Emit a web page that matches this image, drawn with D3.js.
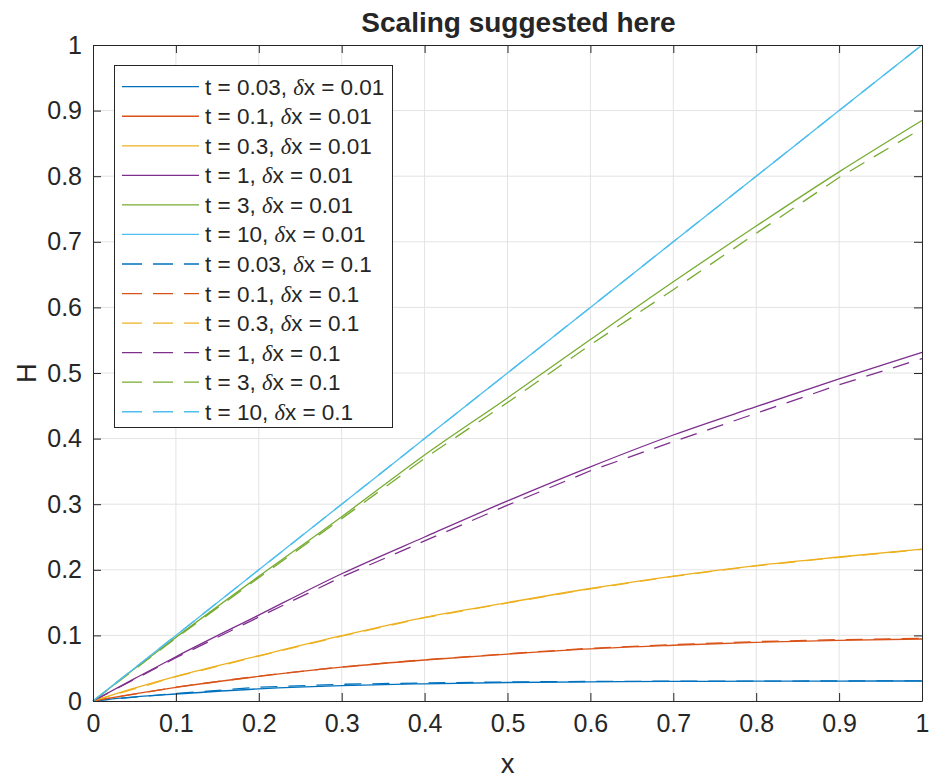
<!DOCTYPE html>
<html>
<head>
<meta charset="utf-8">
<script src="https://cdn.jsdelivr.net/npm/d3@7"></script>
<style>
  body { margin: 0; background: #fff; }
  svg { display: block; }
  text { font-family: "Liberation Sans", Arial, Helvetica, sans-serif; fill: #262626; }
</style>
</head>
<body>
<svg id="chart" width="930" height="779"></svg>
<script>
// Sample positions: the fine runs (dx = 0.01) are read off the picture at these x,
// the coarse runs (dx = 0.1) only have points every 0.1
const xFine = [0, 0.05, 0.1, 0.2, 0.3, 0.4, 0.5, 0.6, 0.7, 0.8, 0.9, 1.0];
const xCoarse = [0, 0.1, 0.2, 0.3, 0.4, 0.5, 0.6, 0.7, 0.8, 0.9, 1.0];

// H values, dx = 0.01 (solid lines)
const fineT003 = [0, 0.0062, 0.0107, 0.0185, 0.0235, 0.0262, 0.0282, 0.0293, 0.0299, 0.0302, 0.0304, 0.0305];
const fineT01  = [0, 0.011, 0.0208, 0.0375, 0.0515, 0.0625, 0.0715, 0.0795, 0.085, 0.0895, 0.0925, 0.0945];
const fineT03  = [0, 0.0195, 0.0375, 0.069, 0.0995, 0.1275, 0.150, 0.1715, 0.1905, 0.2065, 0.2195, 0.2315];
const fineT1   = [0, 0.034, 0.0675, 0.131, 0.194, 0.250, 0.305, 0.357, 0.4055, 0.4487, 0.491, 0.5315];
const fineT3   = [0, 0.049, 0.097, 0.19, 0.281, 0.375, 0.462, 0.551, 0.639, 0.724, 0.8066, 0.885];
const fineT10  = [0, 0.05, 0.1, 0.2, 0.3, 0.4, 0.5, 0.6, 0.7, 0.8, 0.9, 1.0];

// H values, dx = 0.1 (dashed lines)
const coarseT003 = [0, 0.0115, 0.021, 0.0255, 0.0275, 0.029, 0.0298, 0.0302, 0.0304, 0.0305, 0.0306];
const coarseT01  = [0, 0.021, 0.038, 0.052, 0.063, 0.072, 0.0805, 0.086, 0.0905, 0.0935, 0.0955];
const coarseT03  = [0, 0.037, 0.0685, 0.099, 0.127, 0.1495, 0.171, 0.190, 0.206, 0.219, 0.231];
const coarseT1   = [0, 0.066, 0.128, 0.189, 0.244, 0.2985, 0.351, 0.3954, 0.4386, 0.482, 0.522];
const coarseT3   = [0, 0.096, 0.188, 0.278, 0.370, 0.455, 0.543, 0.627, 0.713, 0.798, 0.873];
const coarseT10  = [0, 0.1, 0.2, 0.3, 0.4, 0.5, 0.6, 0.7, 0.8, 0.9, 1.0];

const tLabels = ['0.03', '0.1', '0.3', '1', '3', '10'];
const dxLabels = ['0.01', '0.1'];
const xTicks = [0, 0.1, 0.2, 0.3, 0.4, 0.5, 0.6, 0.7, 0.8, 0.9, 1];
const yTicks = [0, 0.1, 0.2, 0.3, 0.4, 0.5, 0.6, 0.7, 0.8, 0.9, 1];

// MATLAB default colour order
const colors = ['#0072BD', '#D95319', '#EDB120', '#7E2F8E', '#77AC30', '#4DBEEE'];

const fineSeries = [fineT003, fineT01, fineT03, fineT1, fineT3, fineT10];
const coarseSeries = [coarseT003, coarseT01, coarseT03, coarseT1, coarseT3, coarseT10];

// Plot box in pixels
const margin = { left: 93, right: 8, top: 45, bottom: 78 };
const width = 930, height = 779;

const svg = d3.select('#chart');

const xScale = d3.scaleLinear().domain([0, 1]).range([margin.left, width - margin.right]);
const yScale = d3.scaleLinear().domain([0, 1]).range([height - margin.bottom, margin.top]);

const x0 = xScale.range()[0], x1 = xScale.range()[1];
const yBot = yScale.range()[0], yTop = yScale.range()[1];

// Grid lines
const grid = svg.append('g').attr('stroke', '#e3e3e3').attr('stroke-width', 1);
grid.selectAll('.vgrid')
  .data(xTicks.slice(1, -1))
  .enter().append('line')
  .attr('x1', d => xScale(d)).attr('x2', d => xScale(d))
  .attr('y1', yTop).attr('y2', yBot);
grid.selectAll('.hgrid')
  .data(yTicks.slice(1, -1))
  .enter().append('line')
  .attr('y1', d => yScale(d)).attr('y2', d => yScale(d))
  .attr('x1', x0).attr('x2', x1);

// Lines
const lineFine = d3.line()
  .x((d, i) => xScale(xFine[i]))
  .y(d => yScale(d))
  .curve(d3.curveMonotoneX);

const lineCoarse = d3.line()
  .x((d, i) => xScale(xCoarse[i]))
  .y(d => yScale(d));

const plot = svg.append('g');

plot.selectAll('.fine')
  .data(fineSeries)
  .enter().append('path')
  .attr('d', lineFine)
  .attr('fill', 'none')
  .attr('stroke', (d, i) => colors[i])
  .attr('stroke-width', 1.3);

plot.selectAll('.coarse')
  .data(coarseSeries)
  .enter().append('path')
  .attr('d', lineCoarse)
  .attr('fill', 'none')
  .attr('stroke', (d, i) => colors[i])
  .attr('stroke-width', 1.3)
  .attr('stroke-dasharray', '17,11');

// Axes: ticks point inward, box on all four sides
const tickLen = 8;
const axisColor = '#262626';
const tickFont = 25;

svg.append('g')
  .attr('transform', `translate(0, ${yBot})`)
  .call(d3.axisBottom(xScale).tickValues(xTicks).tickSizeInner(-tickLen).tickSizeOuter(0)
          .tickPadding(13).tickFormat(d3.format('')))
  .call(g => g.selectAll('text').attr('font-size', tickFont).attr('fill', axisColor)
               .attr('font-family', '"Liberation Sans", Arial, sans-serif'))
  .call(g => g.selectAll('line, path').attr('stroke', axisColor));

svg.append('g')
  .attr('transform', `translate(0, ${yTop})`)
  .call(d3.axisTop(xScale).tickValues(xTicks).tickSizeInner(-tickLen).tickSizeOuter(0).tickFormat(''))
  .call(g => g.selectAll('line, path').attr('stroke', axisColor));

svg.append('g')
  .attr('transform', `translate(${x0}, 0)`)
  .call(d3.axisLeft(yScale).tickValues(yTicks).tickSizeInner(-tickLen).tickSizeOuter(0)
          .tickPadding(11).tickFormat(d3.format('')))
  .call(g => g.selectAll('text').attr('font-size', tickFont).attr('fill', axisColor)
               .attr('font-family', '"Liberation Sans", Arial, sans-serif'))
  .call(g => g.selectAll('line, path').attr('stroke', axisColor));

svg.append('g')
  .attr('transform', `translate(${x1}, 0)`)
  .call(d3.axisRight(yScale).tickValues(yTicks).tickSizeInner(-tickLen).tickSizeOuter(0).tickFormat(''))
  .call(g => g.selectAll('line, path').attr('stroke', axisColor));

// Title and axis labels
svg.append('text')
  .attr('x', (x0 + x1) / 2 + 11).attr('y', 32)
  .attr('text-anchor', 'middle')
  .attr('font-size', 28).attr('font-weight', 'bold')
  .attr('fill', '#000')
  .text('Scaling suggested here');

svg.append('text')
  .attr('x', (x0 + x1) / 2).attr('y', 773)
  .attr('text-anchor', 'middle')
  .attr('font-size', 27.5)
  .text('x');

svg.append('text')
  .attr('transform', `translate(36, ${(yTop + yBot) / 2}) rotate(-90)`)
  .attr('text-anchor', 'middle')
  .attr('font-size', 27.5)
  .text('H');

// Legend
const legendItems = [];
dxLabels.forEach((dx, j) => {
  tLabels.forEach((t, i) => {
    legendItems.push({ t, dx, color: colors[i], dashed: j === 1 });
  });
});

const legend = svg.append('g');
const lgX = 114, lgY = 65, lgW = 278, lgH = 362;
const rowStep = 29.55, row0 = 86.7;

legend.append('rect')
  .attr('x', lgX + 0.5).attr('y', lgY + 0.5)
  .attr('width', lgW).attr('height', lgH)
  .attr('fill', '#fff').attr('stroke', axisColor).attr('stroke-width', 1);

const rows = legend.selectAll('.row')
  .data(legendItems)
  .enter().append('g')
  .attr('transform', (d, i) => `translate(0, ${row0 + i * rowStep})`);

rows.append('line')
  .attr('x1', 122).attr('x2', 199)
  .attr('y1', 0).attr('y2', 0)
  .attr('stroke', d => d.color)
  .attr('stroke-width', 1.3)
  .attr('stroke-dasharray', d => d.dashed ? '20,11' : null);

const label = rows.append('text')
  .attr('x', 205).attr('y', 8)
  .attr('font-size', 22.5)
  .attr('fill', '#000');
label.append('tspan').text(d => `t = ${d.t}, `);
label.append('tspan')
  .attr('font-family', '"Liberation Serif", "Times New Roman", serif')
  .attr('font-style', 'italic')
  .text('δ');
label.append('tspan').text(d => `x = ${d.dx}`);
</script>
</body>
</html>
